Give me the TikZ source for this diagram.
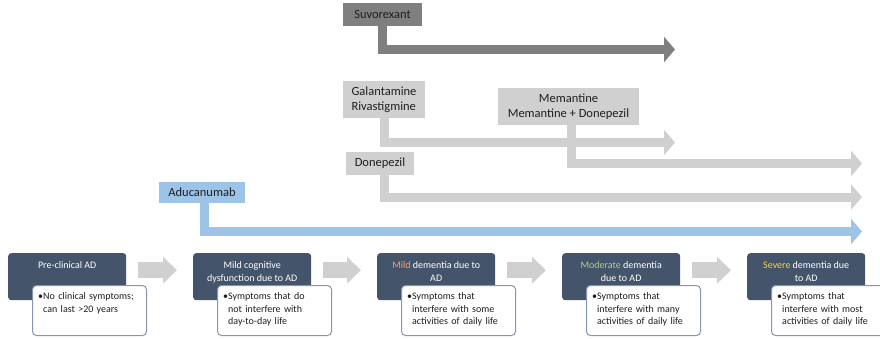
\documentclass[tikz,border=0pt]{standalone}
\usepackage{fontspec}
\setmainfont{Carlito}
\usetikzlibrary{arrows.meta,positioning}
\definecolor{navy}{HTML}{44546A}
\definecolor{noteborder}{HTML}{8496B0}
\definecolor{drugdark}{HTML}{7F7F7F}
\definecolor{druglight}{HTML}{D0D0D0}
\definecolor{drugtext}{HTML}{1E1E1E}
\definecolor{adublue}{HTML}{9DC3E6}
\definecolor{arrowgrey}{HTML}{D0D0D0}
\definecolor{mildc}{HTML}{F4A261}
\definecolor{modc}{HTML}{A9D18E}
\definecolor{sevc}{HTML}{FFD43B}

\begin{document}
\begin{tikzpicture}[x=1pt, y=-1pt,
  stagebox/.style={fill=navy, rounded corners=3pt, minimum width=118pt, minimum height=47pt, anchor=north west, inner sep=0pt},
  stagetitle/.style={text=white, font=\fontsize{10}{13.5}\selectfont, align=center, anchor=north, inner sep=0pt},
  notebox/.style={draw=noteborder, fill=white, line width=1pt, rounded corners=4pt, minimum width=114pt, minimum height=50pt, anchor=north west, inner sep=0pt},
  notetext/.style={font=\fontsize{10}{12.5}\selectfont, text=drugtext, text width=92pt, align=left, anchor=north west, inner sep=0pt},
  drug/.style={font=\fontsize{12.5}{15}\selectfont, text=drugtext, inner sep=0pt, minimum height=23pt},
  rx/.style={line width=9pt, -{Triangle[length=11pt,width=25pt]}},
  stagearrow/.style={draw=arrowgrey, line width=16pt, -{Triangle[length=14pt,width=26pt]}}]
\useasboundingbox (0,0) rectangle (880,338);

\node[drug, fill=drugdark, minimum width=79pt] (suvo) at (382.5,14.5) {Suvorexant};
\node[drug, fill=druglight, minimum width=82pt, minimum height=37pt, align=left] (galan) at (384,99.5) {Galantamine\\Rivastigmine};
\node[drug, fill=druglight, minimum width=141pt, minimum height=37pt, align=center] (meman) at (568.5,106.5) {Memantine\\Memantine + Donepezil};
\node[drug, fill=druglight, minimum width=68pt] (donep) at (380,163.5) {Donepezil};
\node[drug, fill=adublue, minimum width=86pt, minimum height=21pt] (aduc) at (202,192.5) {Aducanumab};

\coordinate (suvoEnd) at (675,49.5);
\coordinate (galanEnd) at (675,142.5);
\coordinate (memanEnd) at (862,163.5);
\coordinate (donepEnd) at (862,197);
\coordinate (aducEnd) at (862,231.5);
\draw[rx, draw=drugdark] (suvo.south) |- (suvoEnd);
\draw[rx, draw=druglight] (galan.south) |- (galanEnd);
\draw[rx, draw=druglight] ([xshift=3pt]meman.south) |- (memanEnd);
\draw[rx, draw=druglight] ([xshift=4pt]donep.south) |- (donepEnd);
\draw[rx, draw=adublue] ([xshift=2pt]aduc.south) |- (aducEnd);

\foreach \i/\x/\ttl/\note in {
  1/8/{Pre-clinical AD}/{No clinical symptoms;\\can last >20 years},
  2/193/{Mild cognitive\\dysfunction due to AD}/{Symptoms that do\\not interfere with\\day-to-day life},
  3/377/{\textcolor{mildc}{Mild} dementia due to\\AD}/{Symptoms that\\interfere with some\\activities of daily life},
  4/562/{\textcolor{modc}{Moderate} dementia\\due to AD}/{Symptoms that\\interfere with many\\activities of daily life},
  5/747/{\textcolor{sevc}{Severe} dementia due\\to AD}/{Symptoms that\\interfere with most\\activities of daily life}}{
  \node[stagebox] (s\i) at (\x,253) {};
  \node[stagetitle] (h\i) at ([yshift=-8pt]s\i.north) {\ttl};
  \node[notebox] (b\i) at (\x+24,285) {};
  \node[notetext] (t\i) at ([xshift=11pt,yshift=-7.5pt]b\i.north west) {\llap{\textbullet}\note};
}
\foreach \i in {1,2,3,4}{
  \pgfmathtruncatemacro{\j}{\i+1}
  \draw[stagearrow] ([xshift=12pt,yshift=6.5pt]s\i.east) -- ([xshift=-16pt,yshift=6.5pt]s\j.west);
}
\end{tikzpicture}
\end{document}
